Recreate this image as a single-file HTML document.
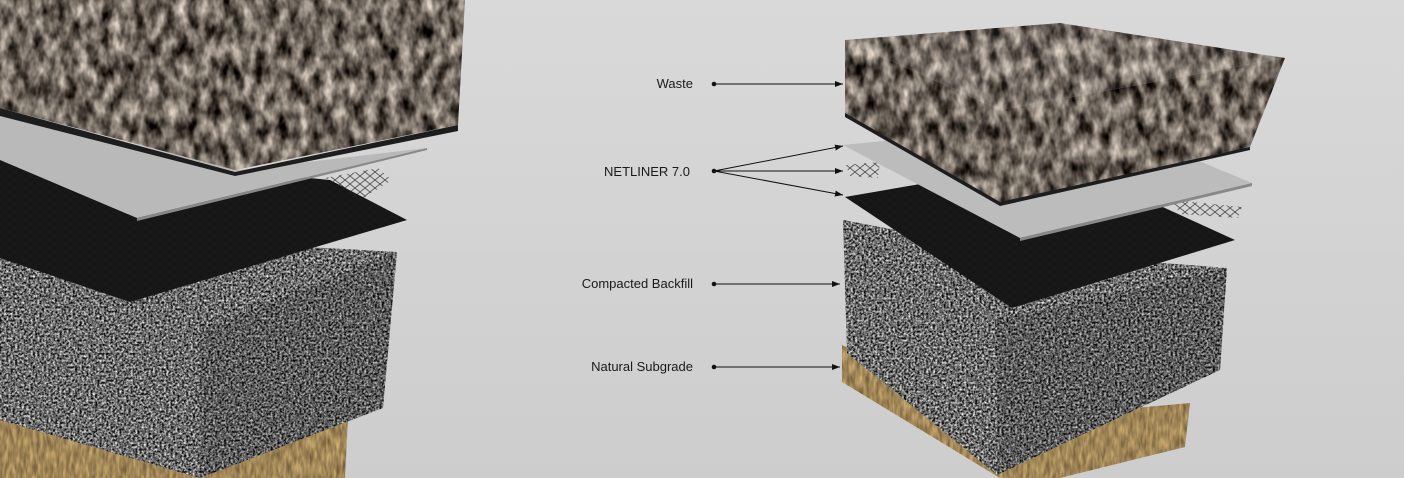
<!DOCTYPE html>
<html><head><meta charset="utf-8">
<style>
html,body{margin:0;padding:0;background:#d3d3d3;}
svg{display:block}
text{font-family:"Liberation Sans",sans-serif;font-size:13px;fill:#1a1a1a}
</style></head>
<body>
<svg width="1404" height="478" viewBox="0 0 1404 478" xmlns="http://www.w3.org/2000/svg">
<defs>
<linearGradient id="bg" x1="0" y1="0" x2="0" y2="1">
<stop offset="0" stop-color="#d9d9d9"/><stop offset="1" stop-color="#cdcdcd"/>
</linearGradient>
<filter id="grav" x="0" y="0" width="100%" height="100%" color-interpolation-filters="sRGB">
<feTurbulence type="fractalNoise" baseFrequency="0.45" numOctaves="2" seed="4"/>
<feColorMatrix type="matrix" values="1.6 0 0 0 -0.38  1.6 0 0 0 -0.38  1.6 0 0 0 -0.38  0 0 0 0 1"/>
<feComposite in2="SourceGraphic" operator="in"/>
</filter>
<filter id="waste" x="0" y="0" width="100%" height="100%" color-interpolation-filters="sRGB">
<feTurbulence type="fractalNoise" baseFrequency="0.09 0.05" numOctaves="3" seed="7"/>
<feColorMatrix type="matrix" values="1.3 0 0 0 -0.22  1.25 0 0 0 -0.23  1.2 0 0 0 -0.24  0 0 0 0 1"/>
<feComposite in2="SourceGraphic" operator="in"/>
</filter>
<filter id="soil" x="0" y="0" width="100%" height="100%" color-interpolation-filters="sRGB">
<feTurbulence type="fractalNoise" baseFrequency="0.3 0.08" numOctaves="2" seed="2"/>
<feColorMatrix type="matrix" values="0.5 0 0 0 0.38  0.45 0 0 0 0.3  0.3 0 0 0 0.19  0 0 0 0 1"/>
<feComposite in2="SourceGraphic" operator="in"/>
</filter>
<marker id="ah" markerWidth="8" markerHeight="6" refX="8" refY="3" orient="auto" markerUnits="userSpaceOnUse">
<path d="M0,0 L8,3 L0,6 Z" fill="#111"/>
</marker>
<pattern id="net" width="10" height="8" patternUnits="userSpaceOnUse">
<path d="M0,0 L10,8 M10,0 L0,8" stroke="#222" stroke-width="0.8"/>
</pattern>
</defs>
<rect width="1404" height="478" fill="url(#bg)"/>

<!-- LEFT STACK -->
<polygon points="0,405 200,470 348,417 345,478 0,478" filter="url(#soil)" fill="#000"/>
<polygon points="0,230 397,252 383,408 200,478 0,420" filter="url(#grav)" fill="#000"/>
<polygon points="200,330 397,252 383,408 200,478" fill="#000" opacity="0.15"/>
<polygon points="0,148 330,180 407,220 130,302 0,258" fill="#161616"/>
<polygon points="0,150 330,180 407,220 130,302 0,258" fill="url(#net)" opacity="0.35"/>
<polygon points="325,178 378,168 392,180 360,200" fill="url(#net)" opacity="0.8"/>
<polygon points="0,112 240,170 427,148 137,218 0,160" fill="#b9b9b9"/>
<polygon points="137,218 427,148 427,150 137,221" fill="#888"/>
<polygon points="0,108 235,172 458,125 458,131 235,176 0,116" fill="#1d1d1d"/>
<polygon points="0,0 465,0 458,125 235,170 0,108" filter="url(#waste)" fill="#000"/>

<!-- RIGHT STACK -->
<polygon points="842,345 1000,420 1190,403 1185,447 1060,478 1000,478 842,382" filter="url(#soil)" fill="#000"/>
<polygon points="843,220 1000,250 1227,268 1220,370 997,475 847,353" filter="url(#grav)" fill="#000"/>
<polygon points="997,320 1227,268 1220,370 997,475" fill="#000" opacity="0.15"/>
<polygon points="845,197 1060,160 1235,240 1012,308" fill="#161616"/>
<polygon points="845,197 1060,160 1235,240 1012,308" fill="url(#net)" opacity="0.35"/>
<polygon points="846,165 880,162 878,178 850,176" fill="url(#net)" opacity="0.8"/>
<polygon points="1172,200 1242,207 1238,218 1180,214" fill="url(#net)" opacity="0.8"/>
<polygon points="843,145 1100,120 1252,183 1020,238" fill="#bcbcbc"/>
<polygon points="1020,238 1252,183 1252,186 1020,241" fill="#888"/>
<polygon points="845,110 1000,198 1250,144 1250,150 1000,206 845,117" fill="#1d1d1d"/>
<polygon points="845,40 1060,23 1285,58 1000,110" filter="url(#waste)" fill="#000"/>
<polygon points="845,40 1000,110 1000,202 845,113" filter="url(#waste)" fill="#000"/>
<polygon points="1000,110 1285,58 1250,147 1000,202" filter="url(#waste)" fill="#000"/>
<polygon points="845,40 1060,23 1285,58 1000,110" fill="#fff" opacity="0.08"/>

<!-- LABELS -->
<text x="693" y="88" text-anchor="end">Waste</text>
<text x="690" y="176" text-anchor="end">NETLINER 7.0</text>
<text x="693" y="288" text-anchor="end">Compacted Backfill</text>
<text x="693" y="371" text-anchor="end">Natural Subgrade</text>
<g fill="#111">
<circle cx="714" cy="84" r="2.3"/><circle cx="714" cy="171" r="2.3"/>
<circle cx="714" cy="284" r="2.3"/><circle cx="714" cy="367" r="2.3"/>
</g>
<g stroke="#111" stroke-width="1" fill="none" marker-end="url(#ah)">
<line x1="714" y1="84" x2="843" y2="84"/>
<line x1="714" y1="171" x2="843" y2="146"/>
<line x1="714" y1="171" x2="843" y2="171"/>
<line x1="714" y1="171" x2="843" y2="195"/>
<line x1="714" y1="284" x2="840" y2="284"/>
<line x1="714" y1="367" x2="840" y2="367"/>
</g>
</svg>
</body></html>
